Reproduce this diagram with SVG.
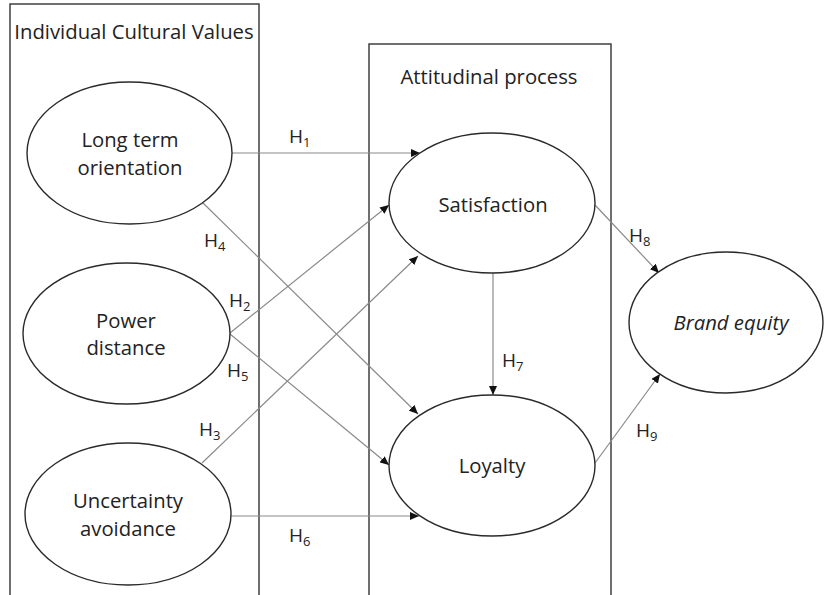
<svg xmlns="http://www.w3.org/2000/svg" width="824" height="595" viewBox="0 0 824 595">
<style>
.box{fill:none;stroke:#404040;stroke-width:1.5}
.node{fill:#fff;stroke:#2a2a2a;stroke-width:1.4}
.t{font-family:"Open Sans","Noto Sans",sans-serif;font-size:20.3px;fill:#222;text-anchor:middle}
.h{font-family:"Open Sans","Noto Sans",sans-serif;font-size:19px;fill:#222}
.sub{font-size:13px}
.c{stroke:#8a8a8a;stroke-width:1.2;fill:none;marker-end:url(#ah)}
</style>
<defs>
<marker id="ah" markerUnits="userSpaceOnUse" markerWidth="10" markerHeight="8" refX="9" refY="4" orient="auto">
<path d="M0,0 L9,4 L0,8 z" fill="#111"/>
</marker>
</defs>
<rect width="824" height="595" fill="#fff"/>
<g id="group-cultural">
<path class="box" d="M10,600 V4 H259 V600"/>
<text class="t" x="134" y="39">Individual Cultural Values</text>
</g>
<g id="group-attitudinal">
<path class="box" d="M369,600 V44 H611 V600"/>
<text class="t" x="489" y="84">Attitudinal process</text>
</g>
<g id="connectors">
<line class="c" x1="232" y1="153" x2="420" y2="153"/>
<line class="c" x1="230" y1="333" x2="389" y2="205"/>
<line class="c" x1="202" y1="463" x2="418" y2="256"/>
<line class="c" x1="203" y1="203" x2="418" y2="414"/>
<line class="c" x1="230" y1="334" x2="389" y2="465"/>
<line class="c" x1="231" y1="516" x2="419" y2="516"/>
<line class="c" x1="493" y1="273" x2="493" y2="395"/>
<line class="c" x1="595" y1="205" x2="659" y2="273"/>
<line class="c" x1="595" y1="463" x2="660" y2="374"/>
<text class="h" x="289" y="143">H<tspan class="sub" dy="4">1</tspan></text>
<text class="h" x="229" y="307">H<tspan class="sub" dy="4">2</tspan></text>
<text class="h" x="199" y="436">H<tspan class="sub" dy="4">3</tspan></text>
<text class="h" x="204" y="247">H<tspan class="sub" dy="4">4</tspan></text>
<text class="h" x="227" y="377">H<tspan class="sub" dy="4">5</tspan></text>
<text class="h" x="289" y="542">H<tspan class="sub" dy="4">6</tspan></text>
<text class="h" x="502" y="367">H<tspan class="sub" dy="4">7</tspan></text>
<text class="h" x="629" y="242">H<tspan class="sub" dy="4">8</tspan></text>
<text class="h" x="636" y="437">H<tspan class="sub" dy="4">9</tspan></text>
</g>
<g id="node-lto">
<ellipse class="node" cx="129.5" cy="153" rx="102.5" ry="71"/>
<text class="t" x="130" y="147">Long term</text>
<text class="t" x="130" y="175">orientation</text>
</g>
<g id="node-pd">
<ellipse class="node" cx="126.5" cy="333.5" rx="103.5" ry="70.5"/>
<text class="t" x="126" y="328">Power</text>
<text class="t" x="126" y="355">distance</text>
</g>
<g id="node-ua">
<ellipse class="node" cx="128" cy="514" rx="103" ry="71"/>
<text class="t" x="128" y="508">Uncertainty</text>
<text class="t" x="128" y="536">avoidance</text>
</g>
<g id="node-satisfaction">
<ellipse class="node" cx="492" cy="203" rx="103" ry="70"/>
<text class="t" x="493" y="212">Satisfaction</text>
</g>
<g id="node-loyalty">
<ellipse class="node" cx="492" cy="465.5" rx="103" ry="70.5"/>
<text class="t" x="492" y="473">Loyalty</text>
</g>
<g id="node-brand">
<ellipse class="node" cx="726" cy="322.5" rx="97" ry="70.5"/>
<text class="t" x="731" y="330" font-style="italic" font-size="21px">Brand equity</text>
</g>
</svg>
